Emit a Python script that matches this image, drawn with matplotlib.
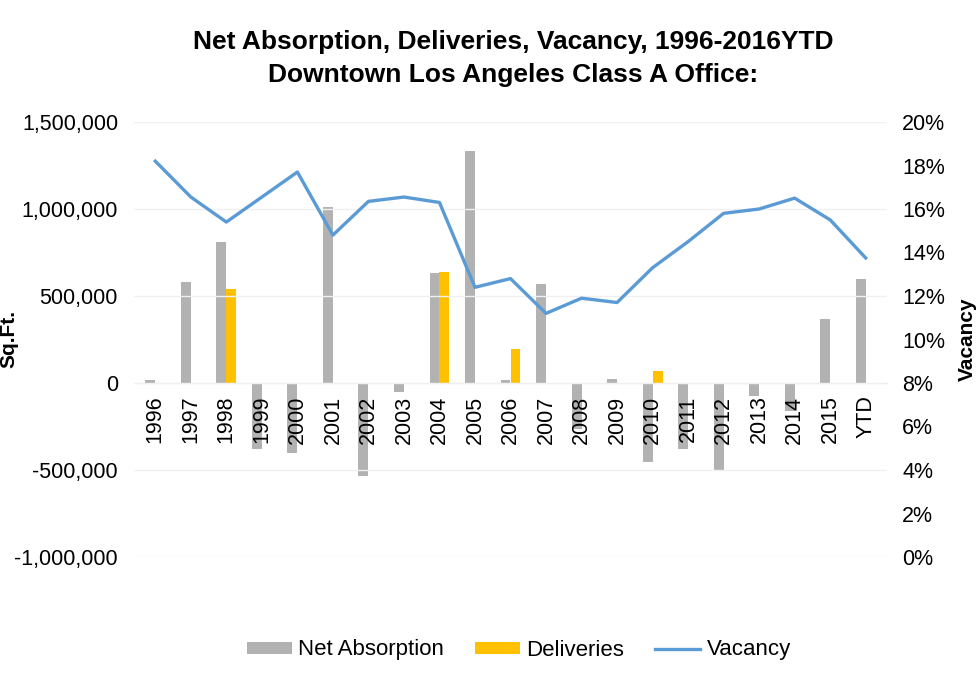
import matplotlib
matplotlib.use("Agg")
import matplotlib.pyplot as plt
import numpy as np
from matplotlib.ticker import FuncFormatter

plt.rcParams["font.family"] = ["Liberation Sans", "DejaVu Sans"]

# data
years = ["1996", "1997", "1998", "1999", "2000", "2001", "2002", "2003", "2004",
         "2005", "2006", "2007", "2008", "2009", "2010", "2011", "2012", "2013",
         "2014", "2015", "YTD"]
net_absorption = [15000, 580000, 810000, -380000, -400000, 1010000, -535000, -50000,
                  635000, 1333000, 20000, 570000, -265000, 25000, -455000, -380000,
                  -505000, -75000, -160000, 368000, 598000]
deliveries = [0, 0, 540000, 0, 0, 0, 0, 0, 640000, 0, 195000, 0, 0, 0, 70000,
              0, 0, 0, 0, 0, 0]
vacancy = [18.2, 16.55, 15.4, 16.55, 17.7, 14.8, 16.35, 16.55, 16.3, 12.4, 12.8,
           11.2, 11.9, 11.7, 13.3, 14.5, 15.8, 16.0, 16.5, 15.5, 13.75]

GRAY = "#A5A5A5"
GOLD = "#FFC000"
BLUE = "#5B9BD5"

fig = plt.figure(figsize=(9.79, 6.79), dpi=100)
ax = fig.add_axes([134 / 979, 122 / 679, (887 - 134) / 979, (557 - 122) / 679])

x = np.arange(len(years))
w = 0.28
ax.bar(x - w / 2, net_absorption, w, color=GRAY, alpha=0.85, label="Net Absorption", zorder=2)
ax.bar(x + w / 2, deliveries, w, color=GOLD, label="Deliveries", zorder=2)

ax.set_ylim(-1000000, 1500000)
ax.set_yticks(np.arange(-1000000, 1500001, 500000))
ax.yaxis.set_major_formatter(FuncFormatter(lambda v, p: f"{v:,.0f}"))
ax.set_xlim(-0.6, len(years) - 0.4)
ax.grid(axis="y", color="#F0F0F0", linewidth=1)
ax.set_axisbelow(False)  # year labels stay readable over the negative bars

for s in ["top", "left", "right"]:
    ax.spines[s].set_visible(False)
# category axis crosses at zero, labels hang just under it
ax.spines["bottom"].set_position(("data", 0))
ax.spines["bottom"].set_color("#E3E3E3")
ax.set_xticks(x)
ax.set_xticklabels(years)
ax.tick_params(axis="x", length=0, pad=9, labelsize=15.5, labelrotation=90)
ax.tick_params(axis="y", length=0, pad=11.5, labelsize=15.5)
ax.set_ylabel("Sq.Ft.", fontsize=15, fontweight="bold")
ax.yaxis.set_label_coords(-0.153, 0.5)

ax2 = ax.twinx()
ax2.plot(x, vacancy, color=BLUE, linewidth=2.4, label="Vacancy")
ax2.set_ylim(0, 20)
ax2.set_yticks(np.arange(0, 21, 2))
ax2.yaxis.set_major_formatter(FuncFormatter(lambda v, p: f"{v:.0f}%"))
for s in ["top", "left", "right", "bottom"]:
    ax2.spines[s].set_visible(False)
ax2.tick_params(axis="y", length=0, pad=11, labelsize=15.5)
ax2.set_ylabel("Vacancy", fontsize=15, fontweight="bold")
ax2.yaxis.set_label_coords(1.094, 0.5)

fig.text(0.524, 1 - 42 / 679, "Net Absorption, Deliveries, Vacancy, 1996-2016YTD",
         ha="center", va="center", fontsize=19, fontweight="bold")
fig.text(0.524, 1 - 75 / 679, "Downtown Los Angeles Class A Office:",
         ha="center", va="center", fontsize=19, fontweight="bold")

h1, l1 = ax.get_legend_handles_labels()
h2, l2 = ax2.get_legend_handles_labels()
fig.legend(h1 + h2, l1 + l2, loc="center", bbox_to_anchor=(519 / 979, 1 - 650 / 679),
           ncol=3, frameon=False, fontsize=16, handlelength=2.0, handleheight=0.45,
           columnspacing=1.4, handletextpad=0.3)

fig.savefig("out.png", dpi=100, facecolor="white")
